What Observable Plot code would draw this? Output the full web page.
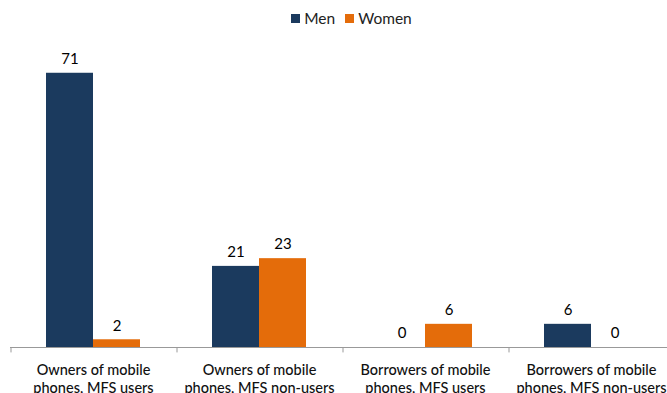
<!DOCTYPE html>
<html><head><meta charset="utf-8">
<script src="https://cdn.jsdelivr.net/npm/d3@7"></script>
<script src="https://cdn.jsdelivr.net/npm/@observablehq/plot@0.6"></script>
<style>
body{margin:0;background:#fff;font-family:Lato,"Open Sans",sans-serif;}
#legend{height:36px;display:flex;align-items:center;justify-content:center;padding-left:36px;font-size:15.5px;color:#222;}
.sw{display:inline-block;width:9px;height:9px;margin-right:4px;}
.it{display:flex;align-items:center;margin:0 5px;}
</style></head><body>
<div id="legend"></div>
<div id="chart"></div>
<script>
const categories = ["Owners of mobile\nphones, MFS users","Owners of mobile\nphones, MFS non-users","Borrowers of mobile\nphones, MFS users","Borrowers of mobile\nphones, MFS non-users"];
const series = ["Men","Women"];
const men = [71,21,0,6];
const women = [2,23,6,0];
const colors = ["#1b3a5e","#e46c0a"];

const data = [];
categories.forEach((c,i)=>{ data.push({cat:c,s:"Men",v:men[i]}); data.push({cat:c,s:"Women",v:women[i]}); });

const lg = document.getElementById("legend");
series.forEach((s,i)=>{ const d=document.createElement("span"); d.className="it"; d.innerHTML=`<span class="sw" style="background:${colors[i]}"></span>${s}`; lg.appendChild(d); });

const chart = Plot.plot({
  width: 667, height: 357,
  marginTop: 2, marginBottom: 46, marginLeft: 10, marginRight: -7,
  style: {fontFamily: "Lato, sans-serif", fontSize: "13px", color: "#000", overflow: "visible"},
  fx: {domain: categories, paddingInner: 0, paddingOuter: 0, label: null, axis: null},
  x: {domain: series, paddingInner: 0, paddingOuter: 0.73, axis: null},
  y: {domain: [0, 80], axis: null},
  color: {domain: series, range: colors},
  marks: [
    Plot.barY(data, {fx: "cat", x: "s", y: "v", fill: "s"}),
    Plot.text(data, {fx: "cat", x: "s", y: "v", text: d => String(d.v), dy: -14, fontSize: 15, fill: "#000"}),
    Plot.ruleY([0], {stroke: "#999", strokeWidth: 1}),
    Plot.ruleX(categories, {fx: d => d, x: () => "Men", dx: -59, y1: 0, y2: -1.4, stroke: "#999"}),
    Plot.axisFx({anchor: "bottom", tickSize: 0, tickPadding: 15, fontSize: 14.5, fontWeight: 500, lineHeight: 1.25, label: null, fill: "#111"})
  ]
});
document.getElementById("chart").appendChild(chart);
</script></body></html>
